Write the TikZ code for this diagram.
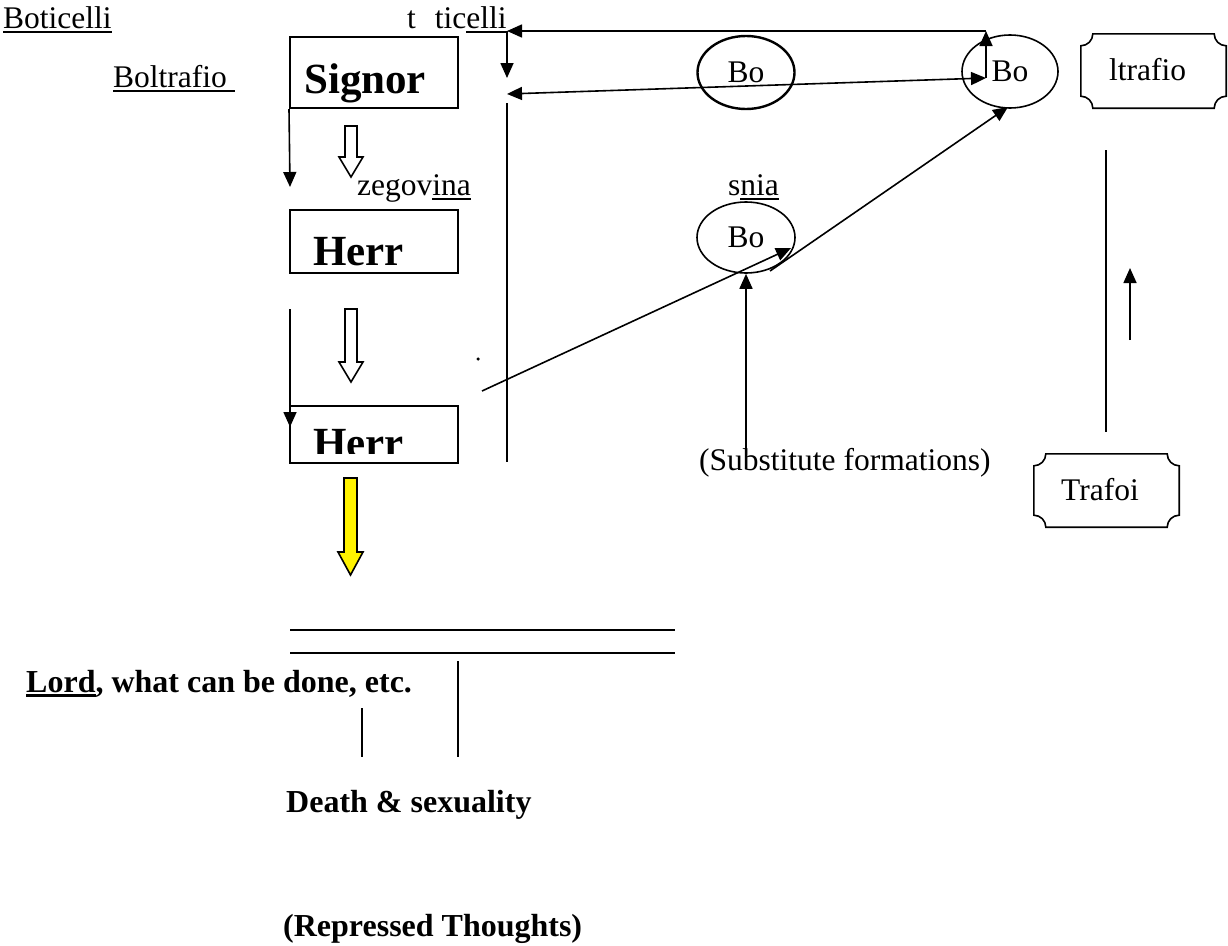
\documentclass[tikz,border=0pt]{standalone}
\usepackage{fontspec}
\setmainfont{Liberation Serif}
\usetikzlibrary{arrows.meta,shapes.geometric}
% underline with a rule of chosen thickness
\newcommand\undl[2][1.8pt]{\setbox0\hbox{#2}\rlap{\rule[-4.5pt]{\wd0}{#1}}\box0}
% outline with concave quarter-circle corners around node #1
\newcommand\plaque[1]{%
  \draw[ln] ([xshift=12pt]#1.north west) -- ([xshift=-12pt]#1.north east)
    arc[start angle=180,end angle=270,radius=12pt]
    -- ([yshift=12pt]#1.south east)
    arc[start angle=90,end angle=180,radius=12pt]
    -- ([xshift=12pt]#1.south west)
    arc[start angle=0,end angle=90,radius=12pt]
    -- ([yshift=-12pt]#1.north west)
    arc[start angle=270,end angle=360,radius=12pt] -- cycle;}
\begin{document}
\begin{tikzpicture}[x=1pt,y=-1pt,
  txt/.style={font=\fontsize{31.5}{36}\selectfont, inner sep=0pt, anchor=base west},
  bigb/.style={font=\fontsize{43}{48}\selectfont\bfseries, inner sep=0pt, anchor=base west},
  botb/.style={font=\fontsize{32}{38}\selectfont\bfseries, inner sep=0pt, anchor=base west},
  ln/.style={line width=1.6pt},
  arr/.style={ln, -{Triangle[length=15pt,width=13pt]}},
  darr/.style={ln, {Triangle[length=15pt,width=13pt]}-{Triangle[length=15pt,width=13pt]}},
  boxn/.style={draw, line width=2pt, minimum width=168pt, inner sep=0pt},
  oval/.style={draw, ellipse, inner sep=0pt, line width=1.6pt, font=\fontsize{31.5}{36}\selectfont},
  frame/.style={inner sep=0pt, minimum width=145pt, minimum height=74pt},
  block/.style={line width=1.6pt, line join=miter}]
\useasboundingbox (0,0) rectangle (1228,945);

% free-standing labels
\node[txt] (boti) at (3,28) {\undl{Boticelli}};
\node[txt] (tic) at (407,28) {t\hspace{19pt}tic\undl{elli}};
\node[txt] (boltr) at (113,87) {\undl{Boltrafio\ }};
\node[txt] (zeg) at (357,195) {zegov\undl{ina}};
\node[txt] (snia) at (728,195) {s\undl{nia}};
\node[txt] (subst) at (699,470) {(Substitute formations)};

% boxes on the left
\node[boxn, minimum height=71pt] (sig) at (374,72.5) {};
\node[bigb] (sigt) at (304,93.5) {Signor};
\node[boxn, minimum height=63pt] (herr1) at (374,241.5) {};
\node[bigb] (herr1t) at (313,265.5) {Herr};
\node[boxn, minimum height=57pt] (herr2) at (374,434.5) {};
\begin{scope}
  \clip (291,407) rectangle (457,453);
  \node[bigb] (herr2t) at (313,457.5) {Herr};
\end{scope}

% ellipses
\node[oval, line width=2.4pt, minimum width=97pt, minimum height=73pt] (e1) at (746,72.5) {Bo};
\node[oval, minimum width=96pt, minimum height=73pt] (e2) at (1010,71.5) {Bo};
\node[oval, minimum width=98pt, minimum height=71pt] (e3) at (746,237.5) {Bo};

% plaques
\node[frame] (ltr) at (1153.5,71) {};
\plaque{ltr}
\node[txt] (ltrt) at (1109,80) {ltrafio};
\node[frame, minimum height=73pt] (traf) at (1106.5,490.5) {};
\plaque{traf}
\node[txt] (traft) at (1061,500) {Trafoi};

% hollow and yellow block arrows
\draw[block] (345,126) -- (357,126) -- (357,157) -- (363,157) -- (351,177)
  -- (339,157) -- (345,157) -- cycle;
\draw[block] (345,309) -- (357,309) -- (357,362) -- (363,362) -- (351,382)
  -- (339,362) -- (345,362) -- cycle;
\draw[block, fill=yellow] (344,478) -- (357,478) -- (357,552) -- (363,552) -- (350.5,575)
  -- (338,552) -- (344,552) -- cycle;

% small dot
\node[circle, fill, inner sep=0pt, minimum size=3.5pt] (dot) at (478,359) {};

% connectors at the top
\coordinate (p1) at (986,31);
\coordinate (p2) at (507,31);
\coordinate (p3) at (507,78);
\coordinate (p4) at (986,78);
\coordinate (p5) at (507,94);
\draw[arr] (p4) -- (p1);
\draw[arr] (p1) -- (p2);
\draw[arr] (p2) -- (p3);
\draw[darr] (p5) -- (p4);

% long vertical divider
\coordinate (v1) at (507,103);
\coordinate (v2) at (507,462);
\draw[ln] (v1) -- (v2);

% arrows along the left edge
\coordinate (l1) at (290,187);
\coordinate (l2a) at (290,309);
\coordinate (l2b) at (290,427);
\draw[arr] (sig.south west) -- (l1);
\draw[arr] (l2a) -- (l2b);

% slanted arrows
\coordinate (s1a) at (482,391);
\coordinate (s1b) at (791,248);
\coordinate (s2a) at (770,271);
\coordinate (s2b) at (1008,107);
\draw[arr] (s1a) -- (s1b);
\draw[arr] (s2a) -- (s2b);

% arrow from the substitute formations
\coordinate (u1) at (746,467);
\draw[arr] (u1) -- (e3.south);

% right-hand lines
\coordinate (r1) at (1106,150);
\coordinate (r2) at (1106,432);
\draw[ln] (r1) -- (r2);
\coordinate (r3) at (1130,340);
\coordinate (r4) at (1130,268);
\draw[arr] (r3) -- (r4);

% lower part
\coordinate (h1a) at (290,630);
\coordinate (h1b) at (675,630);
\coordinate (h2a) at (290,653);
\coordinate (h2b) at (675,653);
\draw[ln, line width=2pt] (h1a) -- (h1b);
\draw[ln, line width=2pt] (h2a) -- (h2b);
\coordinate (w1a) at (458,661);
\coordinate (w1b) at (458,757);
\coordinate (w2a) at (362,708);
\coordinate (w2b) at (362,757);
\draw[ln] (w1a) -- (w1b);
\draw[ln] (w2a) -- (w2b);

\node[botb] (lord) at (26,692) {\undl[2.6pt]{Lord}, what can be done, etc.};
\node[botb] (death) at (286,812) {Death \& sexuality};
\node[botb] (repr) at (283,936) {(Repressed Thoughts)};
\end{tikzpicture}
\end{document}
